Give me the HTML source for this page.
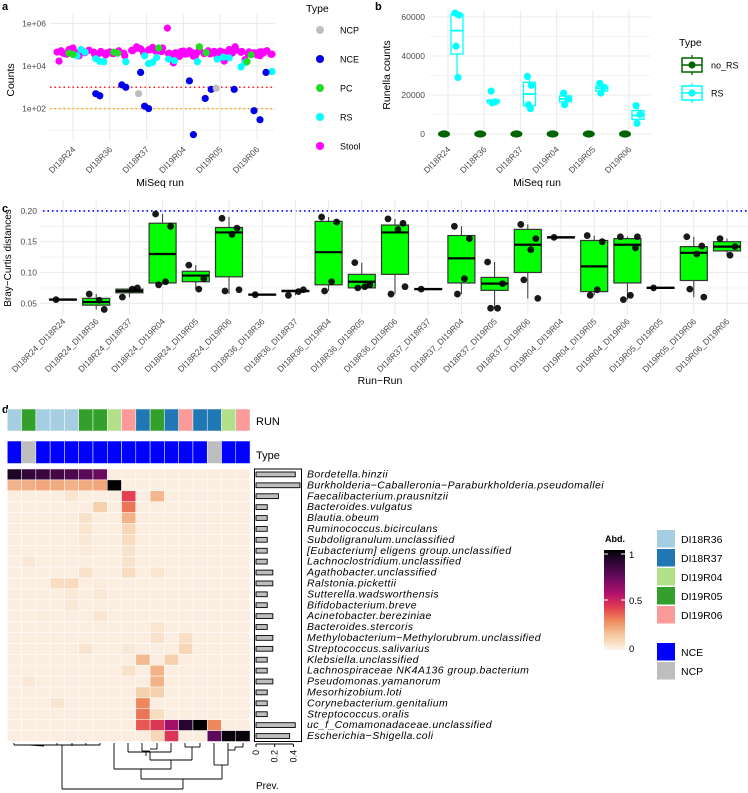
<!DOCTYPE html>
<html><head><meta charset="utf-8">
<style>
body{margin:0;background:#fff;}
svg{display:block;font-family:"Liberation Sans",Arial,sans-serif;}
.tk{font-size:8.5px;fill:#4d4d4d;}
.tt{font-size:10.5px;fill:#000;}
.sp{font-size:10.5px;font-style:italic;fill:#000;letter-spacing:0.4px;}
</style></head>
<body>
<svg id="fig" width="748" height="793" viewBox="0 0 748 793" xmlns="http://www.w3.org/2000/svg">
<g id="pa"></g>
<g id="pb"></g>
<g id="pc"></g>
<g id="pd"></g>
</svg>
<script>
// ---------- DATA ----------
const runs = ["DI18R24","DI18R36","DI18R37","DI19R04","DI19R05","DI19R06"];
// panel a: [runIndex, count]
const stoolPts = [
[0,45000],[0,52000],[0,38000],[0,60000],[0,70000],[0,33000],[0,48000],[0,42000],[0,55000],[0,17000],[0,40000],[0,36000],[0,62000],[0,44000],[0,30000],[0,50000],
[1,40000],[1,35000],[1,48000],[1,42000],[1,38000],[1,52000],[1,30000],[1,45000],[1,37000],[1,41000],[1,33000],[1,46000],[1,39000],[1,44000],
[2,60000],[2,70000],[2,52000],[2,80000],[2,65000],[2,45000],[2,58000],[2,75000],[2,48000],[2,62000],[2,54000],[2,68000],[2,40000],[2,57000],[2,50000],[2,47000],
[3,600000],[3,35000],[3,42000],[3,28000],[3,50000],[3,38000],[3,45000],[3,30000],[3,55000],[3,40000],[3,14000],[3,33000],[3,48000],[3,36000],[3,52000],[3,29000],[3,44000],[3,39000],[3,34000],[3,46000],
[4,45000],[4,60000],[4,80000],[4,38000],[4,52000],[4,42000],[4,35000],[4,50000],[4,17000],[4,47000],[4,40000],[4,55000],[4,44000],[4,37000],[4,49000],[4,41000],
[5,45000],[5,40000],[5,52000],[5,35000],[5,48000],[5,38000],[5,42000],[5,30000],[5,50000],[5,36000],[5,44000],[5,20000],[5,46000],[5,39000],[5,33000],[5,47000]];
const rsPts = [[0,30000],[0,60000],[0,45000],[1,16000],[1,22000],[1,16500],[1,16000],[2,30000],[2,13000],[2,15000],[2,25000],[3,16000],[3,21000],[3,18000],[4,21000],[4,26000],[4,24000],[5,5500],[5,9000],[5,14500]];
const pcPts = [[0,40000],[0,35000],[1,45000],[1,40000],[2,70000],[3,80000],[4,42000],[5,16000],[5,33000]];
const ncePts = [[1,1300],[1,1000],[1,500],[1,400],[2,5000],[2,130],[2,100],[3,2000],[3,6],[4,800],[4,300],[4,800],[5,80],[5,30],[5,5000]];
const ncpPts = [[2,500],[4,900]];
const aJit = [-16,-12,-8,-4,0,4,8,12,16,-14,-10,-6,-2,2,6,10,14,-15,-9,-3,3,9,15];
// panel b
const rsBoxQ1 = [41000,16000,14500,16500,22000,7500];
const rsBoxMed = [53000,17000,20500,18000,23500,9500];
const rsBoxQ3 = [61500,17500,26500,19500,24500,12000];
const rsWhLo = [29000,16000,13000,15000,21000,5500];
const rsWhHi = [62500,17500,29500,21000,26000,14500];
const rsPoints = [[62000,61000,45000,29000],[22000,16500,16000],[29500,25000,15000,13000],[21000,18000,15000],[26000,24000,21000],[14500,10000,5500]];
const noRsValue = [0,0,0,0,0,0];
// panel c
const pairs = ["DI18R24_DI18R24","DI18R24_DI18R36","DI18R24_DI18R37","DI18R24_DI19R04","DI18R24_DI19R05","DI18R24_DI19R06","DI18R36_DI18R36","DI18R36_DI18R37","DI18R36_DI19R04","DI18R36_DI19R05","DI18R36_DI19R06","DI18R37_DI18R37","DI18R37_DI19R04","DI18R37_DI19R05","DI18R37_DI19R06","DI19R04_DI19R04","DI19R04_DI19R05","DI19R04_DI19R06","DI19R05_DI19R05","DI19R05_DI19R06","DI19R06_DI19R06"];
const bcQ1 = [0.056,0.047,0.067,0.083,0.085,0.093,0.064,0.069,0.080,0.075,0.097,0.073,0.083,0.071,0.100,0.156,0.069,0.083,0.075,0.087,0.135];
const bcMed = [0.056,0.052,0.070,0.130,0.095,0.165,0.064,0.070,0.133,0.085,0.165,0.073,0.123,0.082,0.145,0.157,0.110,0.145,0.075,0.132,0.142];
const bcQ3 = [0.057,0.058,0.073,0.180,0.102,0.173,0.065,0.071,0.183,0.097,0.177,0.074,0.160,0.092,0.170,0.158,0.152,0.155,0.076,0.142,0.150];
const bcLo = [0.056,0.040,0.060,0.080,0.073,0.065,0.064,0.063,0.070,0.075,0.065,0.073,0.065,0.042,0.058,0.156,0.063,0.056,0.075,0.060,0.128];
const bcHi = [0.057,0.065,0.076,0.195,0.112,0.190,0.065,0.072,0.190,0.116,0.187,0.074,0.175,0.117,0.178,0.158,0.160,0.158,0.076,0.158,0.155];
const bcPts = [[0.056],[0.065,0.040,0.055],[0.060,0.075,0.073],[0.195,0.175,0.085,0.080],[0.112,0.090,0.073],[0.188,0.172,0.162,0.070,0.072],[0.064],[0.063,0.072,0.069],[0.190,0.182,0.085,0.070],[0.116,0.080,0.077,0.075],[0.187,0.180,0.170,0.065,0.077],[0.073],[0.175,0.155,0.090,0.065],[0.117,0.082,0.042,0.042],[0.178,0.155,0.137,0.088,0.058],[0.157],[0.160,0.150,0.072,0.063],[0.158,0.140,0.063,0.056,0.158],[0.075],[0.158,0.143,0.130,0.073,0.060],[0.155,0.142,0.128]];
// panel d
const taxa = ["Bordetella.hinzii","Burkholderia\u2212Caballeronia\u2212Paraburkholderia.pseudomallei","Faecalibacterium.prausnitzii","Bacteroides.vulgatus","Blautia.obeum","Ruminococcus.bicirculans","Subdoligranulum.unclassified","[Eubacterium] eligens group.unclassified","Lachnoclostridium.unclassified","Agathobacter.unclassified","Ralstonia.pickettii","Sutterella.wadsworthensis","Bifidobacterium.breve","Acinetobacter.bereziniae","Bacteroides.stercoris","Methylobacterium\u2212Methylorubrum.unclassified","Streptococcus.salivarius","Klebsiella.unclassified","Lachnospiraceae NK4A136 group.bacterium","Pseudomonas.yamanorum","Mesorhizobium.loti","Corynebacterium.genitalium","Streptococcus.oralis","uc_f_Comamonadaceae.unclassified","Escherichia\u2212Shigella.coli"];
const sampleRun = ["DI18R36","DI19R05","DI18R36","DI18R36","DI18R36","DI19R05","DI19R05","DI19R04","DI19R06","DI18R37","DI19R05","DI18R37","DI19R06","DI18R37","DI18R37","DI19R04","DI19R06"];
const sampleType = ["NCE","NCP","NCE","NCE","NCE","NCE","NCE","NCE","NCE","NCE","NCE","NCE","NCE","NCE","NCP","NCE","NCE"];
const prevalence = [0.42,0.47,0.24,0.12,0.12,0.12,0.12,0.12,0.12,0.18,0.18,0.12,0.12,0.18,0.12,0.18,0.18,0.12,0.12,0.18,0.12,0.12,0.12,0.42,0.36];
// nonzero abundance entries: [row, col, value]; others are ~0
const abund = [
[0,0,0.92],[0,1,0.86],[0,2,0.85],[0,3,0.82],[0,4,0.80],[0,5,0.76],[0,6,0.72],
[1,0,0.20],[1,1,0.21],[1,2,0.23],[1,3,0.22],[1,4,0.20],[1,5,0.22],[1,6,0.23],[1,7,1.0],
[2,4,0.05],[2,8,0.42],[2,10,0.19],[3,6,0.12],[3,8,0.33],[4,5,0.06],[4,8,0.20],
[5,5,0.05],[5,8,0.10],[6,5,0.04],[6,8,0.08],[7,5,0.03],[7,8,0.06],[8,1,0.04],[8,8,0.06],
[9,5,0.06],[9,8,0.08],[9,10,0.05],[10,3,0.08],[10,4,0.09],[10,6,0.03],[11,4,0.04],[11,6,0.04],
[12,4,0.04],[13,2,0.03],[13,6,0.05],[14,10,0.05],[15,10,0.06],[15,12,0.07],
[16,5,0.05],[16,8,0.04],[16,12,0.10],[17,9,0.18],[17,11,0.12],[18,8,0.06],[18,10,0.20],
[19,1,0.04],[19,10,0.20],[20,9,0.12],[20,10,0.12],[21,3,0.05],[21,9,0.30],[22,9,0.33],[22,10,0.08],
[23,9,0.38],[23,10,0.45],[23,11,0.60],[23,12,0.90],[23,13,1.0],[23,14,0.30],
[24,10,0.10],[24,11,0.45],[24,14,0.75],[24,15,0.98],[24,16,0.98]];

// ---------- HELPERS ----------
const NS="http://www.w3.org/2000/svg";
function mk(parent,tag,attrs,txt){const e=document.createElementNS(NS,tag);for(const k in attrs)e.setAttribute(k,attrs[k]);if(txt!==undefined)e.textContent=txt;parent.appendChild(e);return e;}
function rotLabel(g,x,y,t,cls){return mk(g,'text',{x:x,y:y,'text-anchor':'end',class:cls||'tk',transform:`rotate(-45 ${x} ${y})`},t);}

// ---------- PANEL A ----------
(function(){
const g=document.getElementById('pa');
const xa=i=>73+i*36.8;
const ya=v=>66-(Math.log10(v)-4)*21.3;
mk(g,'text',{x:2,y:10,'font-size':'11px','font-weight':'bold'},'a');
for(let e=1;e<=6;e++){mk(g,'line',{x1:50,x2:275,y1:ya(Math.pow(10,e)),y2:ya(Math.pow(10,e)),stroke:'#ebebeb','stroke-width':e%2?0.6:1.1});}
runs.forEach((r,i)=>{mk(g,'line',{x1:xa(i),x2:xa(i),y1:14,y2:140,stroke:'#ebebeb','stroke-width':1.1});
 const t=rotLabel(g,xa(i)+3,150,r);});
[[2,'1e+02'],[4,'1e+04'],[6,'1e+06']].forEach(([e,l])=>mk(g,'text',{x:46,y:ya(Math.pow(10,e))+3,'text-anchor':'end',class:'tk'},l));
mk(g,'line',{x1:50,x2:275,y1:ya(1000),y2:ya(1000),stroke:'#ff2020','stroke-width':1.5,'stroke-dasharray':'1.5 3'});
mk(g,'line',{x1:50,x2:275,y1:ya(100),y2:ya(100),stroke:'#ffa500','stroke-width':1.5,'stroke-dasharray':'1.5 3'});
function pts(arr,col,name,off){arr.forEach((p,k)=>{const c=mk(g,'circle',{cx:xa(p[0])+aJit[(k+off)%aJit.length],cy:ya(p[1]),r:3.6,fill:col});
 });}
pts(stoolPts,'#ff00ff','stool-point',0);pts(rsPts,'#00ffff','rs-point',5);pts(pcPts,'#22dd22','pc-point',3);pts(ncePts,'#0000ee','nce-point',7);pts(ncpPts,'#bebebe','ncp-point',2);
mk(g,'text',{x:160,y:186,'text-anchor':'middle',class:'tt'},'MiSeq run');
mk(g,'text',{x:14,y:80,'text-anchor':'middle',class:'tt',transform:'rotate(-90 14 80)'},'Counts');
mk(g,'text',{x:306,y:12,class:'tt'},'Type');
[['NCP','#bebebe'],['NCE','#0000ee'],['PC','#22dd22'],['RS','#00ffff'],['Stool','#ff00ff']].forEach(([l,c],i)=>{
 const y=30+i*29;const e=mk(g,'g',{});
 mk(e,'circle',{cx:320,cy:y,r:4,fill:c});mk(e,'text',{x:340,y:y+3.5,'font-size':'9px'},l);});
})();

// ---------- PANEL B ----------
(function(){
const g=document.getElementById('pb');
const xb=i=>448+i*36.2;
const yb=v=>134-v/60000*117;
mk(g,'text',{x:375,y:10,'font-size':'11px','font-weight':'bold'},'b');
for(let v=0;v<=60000;v+=10000)mk(g,'line',{x1:429,x2:651,y1:yb(v),y2:yb(v),stroke:'#ebebeb','stroke-width':(v/10000)%2?0.6:1.1});
[0,20000,40000,60000].forEach(v=>mk(g,'text',{x:425,y:yb(v)+3,'text-anchor':'end',class:'tk'},String(v)));
runs.forEach((r,i)=>{mk(g,'line',{x1:xb(i),x2:xb(i),y1:10,y2:140,stroke:'#ebebeb','stroke-width':1.1});
 rotLabel(g,xb(i)+3,150,r);
 const nr=mk(g,'ellipse',{cx:xb(i)-4,cy:yb(noRsValue[i]),rx:6,ry:3.6,fill:'#006400'});
 
 const cx=xb(i)+9,w=12;
 const bx=mk(g,'g',{});
 mk(bx,'line',{x1:cx,x2:cx,y1:yb(rsWhLo[i]),y2:yb(rsWhHi[i]),stroke:'#00ffff','stroke-width':1.3});
 mk(bx,'rect',{x:cx-w/2,y:yb(rsBoxQ3[i]),width:w,height:Math.max(1,yb(rsBoxQ1[i])-yb(rsBoxQ3[i])),fill:'#fff',stroke:'#00ffff','stroke-width':1.3});
 mk(bx,'line',{x1:cx-w/2,x2:cx+w/2,y1:yb(rsBoxMed[i]),y2:yb(rsBoxMed[i]),stroke:'#00ffff','stroke-width':1.8});
 rsPoints[i].forEach((v,k)=>mk(bx,'circle',{cx:cx+[-2,2,-1,1][k%4],cy:yb(v),r:3.6,fill:'#00ffff'}));
});
mk(g,'text',{x:537,y:186,'text-anchor':'middle',class:'tt'},'MiSeq run');
mk(g,'text',{x:390,y:75,'text-anchor':'middle',class:'tt',transform:'rotate(-90 390 75)'},'Runella counts');
mk(g,'text',{x:679,y:46,class:'tt'},'Type');
[['no_RS','#006400',65],['RS','#00ffff',93]].forEach(([l,c,y])=>{const e=mk(g,'g',{});
 mk(e,'line',{x1:692,x2:692,y1:y-10,y2:y+10,stroke:c,'stroke-width':1.3});
 mk(e,'rect',{x:682,y:y-7,width:20,height:14,fill:'#fff',stroke:c,'stroke-width':1.5});
 mk(e,'line',{x1:682,x2:702,y1:y,y2:y,stroke:c,'stroke-width':1.5});
 mk(e,'circle',{cx:692,cy:y,r:3.6,fill:c});mk(e,'text',{x:711,y:y+3.5,'font-size':'9px'},l);});
})();

// ---------- PANEL C ----------
(function(){
const g=document.getElementById('pc');
const xc=i=>63+i*33.2;
const yc=v=>303.3-(v-0.05)*616;
mk(g,'text',{x:2,y:212,'font-size':'11px','font-weight':'bold'},'c');
for(let v=0.05;v<=0.2001;v+=0.025)mk(g,'line',{x1:40,x2:748,y1:yc(v),y2:yc(v),stroke:'#ebebeb','stroke-width':Math.round(v*1000)%50?0.6:1.1});
[0.05,0.10,0.15,0.20].forEach(v=>mk(g,'text',{x:37,y:yc(v)+3,'text-anchor':'end',class:'tk'},v.toFixed(2)));
mk(g,'line',{x1:43,x2:748,y1:yc(0.2),y2:yc(0.2),stroke:'#0000ff','stroke-width':1.6,'stroke-dasharray':'1.5 3'});
pairs.forEach((p,i)=>{const x=xc(i);mk(g,'line',{x1:x,x2:x,y1:200,y2:315,stroke:'#ebebeb','stroke-width':1.1});
 rotLabel(g,x+3,322,p,'tk');
 const bx=mk(g,'g',{});
 mk(bx,'line',{x1:x,x2:x,y1:yc(bcLo[i]),y2:yc(bcHi[i]),stroke:'#333','stroke-width':1});
 mk(bx,'rect',{x:x-13.5,y:yc(bcQ3[i]),width:27,height:Math.max(1,yc(bcQ1[i])-yc(bcQ3[i])),fill:'#00ff00',stroke:'#333','stroke-width':1.2});
 mk(bx,'line',{x1:x-13.5,x2:x+13.5,y1:yc(bcMed[i]),y2:yc(bcMed[i]),stroke:'#000','stroke-width':2.2});
 bcPts[i].forEach((v,k)=>mk(bx,'circle',{cx:x+[-7,8,3,-4,10][k%5],cy:yc(v),r:3.4,fill:'#000','fill-opacity':0.9}));
});
mk(g,'text',{x:380,y:384,'text-anchor':'middle',class:'tt'},'Run\u2212Run');
mk(g,'text',{x:11,y:258,'text-anchor':'middle','font-size':'10px',transform:'rotate(-90 11 258)'},'Bray\u2212Curtis distances');
})();

// ---------- PANEL D ----------
(function(){
const g=document.getElementById('pd');
const runCol={DI18R36:'#a6cee3',DI18R37:'#1f78b4',DI19R04:'#b2df8a',DI19R05:'#33a02c',DI19R06:'#fb9a99'};
const typeCol={NCE:'#0000ff',NCP:'#bebebe'};
const x0=7.3,cw=14.28,y0=469,rh=10.9;
const stops=[[0,[252,244,234]],[0.15,[245,200,158]],[0.3,[238,135,92]],[0.42,[228,64,79]],[0.56,[180,18,110]],[0.75,[94,10,90]],[0.9,[38,5,46]],[1,[0,0,0]]];
function cmap(v){for(let i=1;i<stops.length;i++){if(v<=stops[i][0]){const a=stops[i-1],b=stops[i],t=(v-a[0])/(b[0]-a[0]);return 'rgb('+a[1].map((c,k)=>Math.round(c+(b[1][k]-c)*t)).join(',')+')';}}return '#000';}
mk(g,'text',{x:2,y:413,'font-size':'11px','font-weight':'bold'},'d');
sampleRun.forEach((r,j)=>{const c=mk(g,'rect',{x:x0+j*cw,y:409,width:cw,height:22,fill:runCol[r],stroke:'#fff','stroke-width':0.5});
 });
sampleType.forEach((t,j)=>{const c=mk(g,'rect',{x:x0+j*cw,y:441,width:cw,height:22.5,fill:typeCol[t],stroke:'#fff','stroke-width':0.5});
 });
mk(g,'text',{x:256,y:425,'font-size':'11px'},'RUN');
mk(g,'text',{x:256,y:459,'font-size':'11px'},'Type');
const M=taxa.map(()=>sampleRun.map(()=>0.02));
abund.forEach(([r,c,v])=>{M[r][c]=v;});
M.forEach((row,r)=>row.forEach((v,c)=>{const e=mk(g,'rect',{x:x0+c*cw,y:y0+r*rh,width:cw,height:rh,fill:cmap(v),stroke:'#fff','stroke-width':0.5});
 }));
// prevalence barplot
const px=v=>256+v/0.2*18.7;
mk(g,'rect',{x:254.5,y:y0,width:47,height:rh*25,fill:'none',stroke:'#000','stroke-width':1});
prevalence.forEach((v,r)=>{const b=mk(g,'rect',{x:px(0),y:y0+r*rh+3,width:px(v)-px(0),height:4.8,fill:'#bebebe',stroke:'#000','stroke-width':0.9});
 });
mk(g,'line',{x1:px(0),x2:px(0.4),y1:744,y2:744,stroke:'#000','stroke-width':1});
[0,0.2,0.4].forEach(v=>{mk(g,'line',{x1:px(v),x2:px(v),y1:744,y2:747,stroke:'#000'});
 mk(g,'text',{x:px(v)+3,y:750,'text-anchor':'end','font-size':'9px',transform:`rotate(-90 ${px(v)+3} 750)`},String(v));});
mk(g,'text',{x:256,y:789,'font-size':'10px'},'Prev.');
taxa.forEach((t,r)=>{const e=mk(g,'text',{x:307,y:y0+r*rh+8.5,class:'sp'},t);});
// dendrogram (structure lines)
const dl=[[14,743,14,745],[14,745,100,745],[30,745,44,746],[57,743,57,745],[72,743,72,746],[86,743,86,745],[100,743,100,745],[62,745,62,789],[62,789,183,789],
[114,743,114,769],[128,743,128,752],[142,743,142,751],[157,743,157,749],[171,743,171,752],[150,749,157,749],[142,751,150,751],[146,751,146,756],[128,752,171,752],[150,752,150,760],[185,743,185,747],[200,743,200,747],[185,747,200,747],[192,747,192,760],[150,760,192,760],[171,760,171,769],[114,769,171,769],
[214,743,214,765],[228,743,228,750],[243,743,243,747],[235,747,243,747],[228,750,235,750],[235,747,235,750],[214,765,228,765],[228,750,228,765],
[141,769,141,779],[222,765,222,779],[141,779,222,779],[183,779,183,789]];
const dg=mk(g,'g',{stroke:'#000','stroke-width':0.9,fill:'none'});
dl.forEach(l=>mk(dg,'line',{x1:l[0],y1:l[1],x2:l[2],y2:l[3]}));
// Abd legend
const defs=mk(g,'defs',{});const lg=mk(defs,'linearGradient',{id:'abdg',x1:0,y1:1,x2:0,y2:0});
stops.forEach(s=>mk(lg,'stop',{offset:s[0],'stop-color':cmap(s[0])}));
mk(g,'text',{x:605,y:542,'font-size':'9px','font-weight':'bold'},'Abd.');
const cb=mk(g,'rect',{x:604,y:550,width:21,height:100,fill:'url(#abdg)'});
[[1,554],[0.5,600],[0,648]].forEach(([v,y])=>{mk(g,'line',{x1:604,x2:608,y1:y,y2:y,stroke:'#fff'});mk(g,'line',{x1:621,x2:625,y1:y,y2:y,stroke:'#fff'});
 mk(g,'text',{x:629,y:y+4,'font-size':'9.5px'},String(v));});
const runLeg=['DI18R36','DI18R37','DI19R04','DI19R05','DI19R06'];
runLeg.forEach((r,i)=>{const e=mk(g,'g',{});
 mk(e,'rect',{x:657,y:530+i*19,width:18,height:17.5,fill:runCol[r]});mk(e,'text',{x:681,y:543+i*19,'font-size':'10.5px'},r);});
['NCE','NCP'].forEach((t,i)=>{const e=mk(g,'g',{});
 mk(e,'rect',{x:657,y:643+i*19,width:18,height:17.5,fill:typeCol[t]});mk(e,'text',{x:681,y:656+i*19,'font-size':'10.5px'},t);});
})();
</script>
</body></html>
